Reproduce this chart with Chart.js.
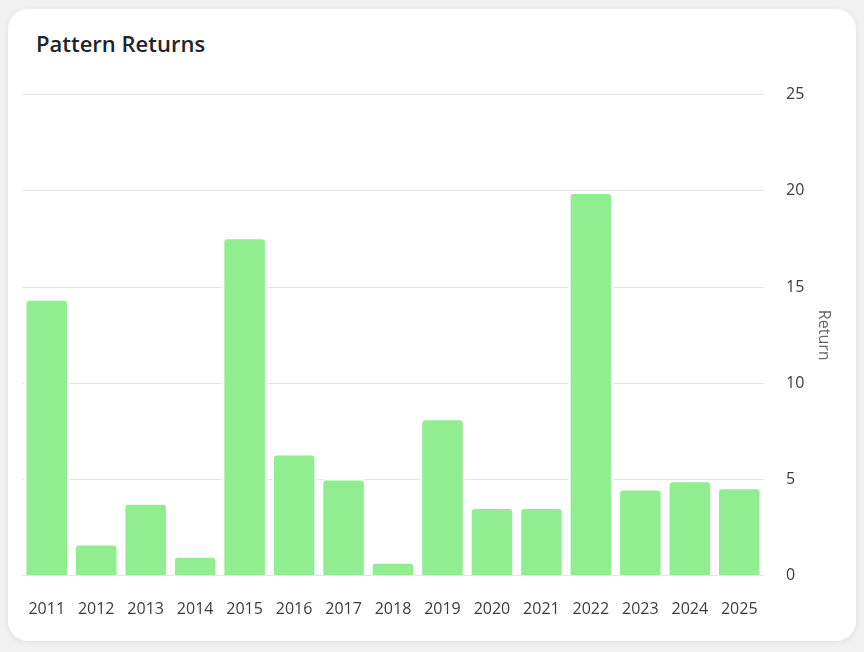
<!DOCTYPE html>
<html>
<head>
<meta charset="utf-8">
<script src="https://cdn.jsdelivr.net/npm/chart.js@4/dist/chart.umd.min.js"></script>
<style>
    body {
        margin: 0;
        background: #f1f1f1;
        font-family: 'Open Sans', sans-serif;
    }
    .card {
        position: absolute;
        left: 8px;
        top: 9px;
        width: 848px;
        height: 632px;
        background: #fff;
        border-radius: 20px;
        box-shadow: 0 1px 6px rgba(0, 0, 0, 0.08);
    }
    .card h2 {
        position: absolute;
        left: 28px;
        top: 19px;
        margin: 0;
        font-size: 22px;
        font-weight: 600;
        color: #23242a;
    }
    .chart-box {
        position: absolute;
        left: 14px;
        top: 54px;
        width: 820px;
        height: 562px;
    }
</style>
</head>
<body>
<div class="card">
    <h2>Pattern Returns</h2>
    <div class="chart-box"><canvas id="returnsChart"></canvas></div>
</div>
<script>
    const years = ['2011', '2012', '2013', '2014', '2015', '2016', '2017', '2018',
        '2019', '2020', '2021', '2022', '2023', '2024', '2025'];
    const returns = [14.4, 1.68, 3.8, 1.04, 17.59, 6.35, 5.05, 0.73,
        8.18, 3.57, 3.57, 19.94, 4.53, 4.96, 4.6];
    const yTicks = [0, 5, 10, 15, 20, 25];

    const ctx = document.getElementById('returnsChart').getContext('2d');
    Chart.defaults.font.family = "'Open Sans', sans-serif";

    new Chart(ctx, {
        type: 'bar',
        data: {
            labels: years,
            datasets: [{
                label: 'Return',
                data: returns,
                backgroundColor: '#90ee90',
                borderColor: '#ffffff',
                borderWidth: 2,
                borderRadius: 5,
                categoryPercentage: 0.9,
                barPercentage: 1.0
            }]
        },
        options: {
            responsive: true,
            maintainAspectRatio: false,
            animation: false,
            plugins: {
                legend: { display: false },
                tooltip: { enabled: false }
            },
            scales: {
                x: {
                    grid: { display: false, tickLength: 18 },
                    border: { display: false },
                    ticks: {
                        color: '#3d3d3d',
                        font: { size: 16 },
                        padding: 6,
                        maxRotation: 0
                    }
                },
                y: {
                    position: 'right',
                    min: yTicks[0],
                    max: yTicks[yTicks.length - 1],
                    afterBuildTicks: (axis) => {
                        axis.ticks = yTicks.map(v => ({ value: v }));
                    },
                    afterFit: (axis) => {
                        axis.width = 78; // keep the title close to the tick labels
                    },
                    grid: { color: '#e6e6e6', drawTicks: false },
                    border: { display: false },
                    ticks: {
                        color: '#3d3d3d',
                        font: { size: 16 },
                        padding: 22
                    },
                    title: {
                        display: true,
                        text: 'Return',
                        color: '#666',
                        font: { size: 16 },
                        padding: { top: 9, bottom: 4 }
                    }
                }
            }
        }
    });
</script>
</body>
</html>
